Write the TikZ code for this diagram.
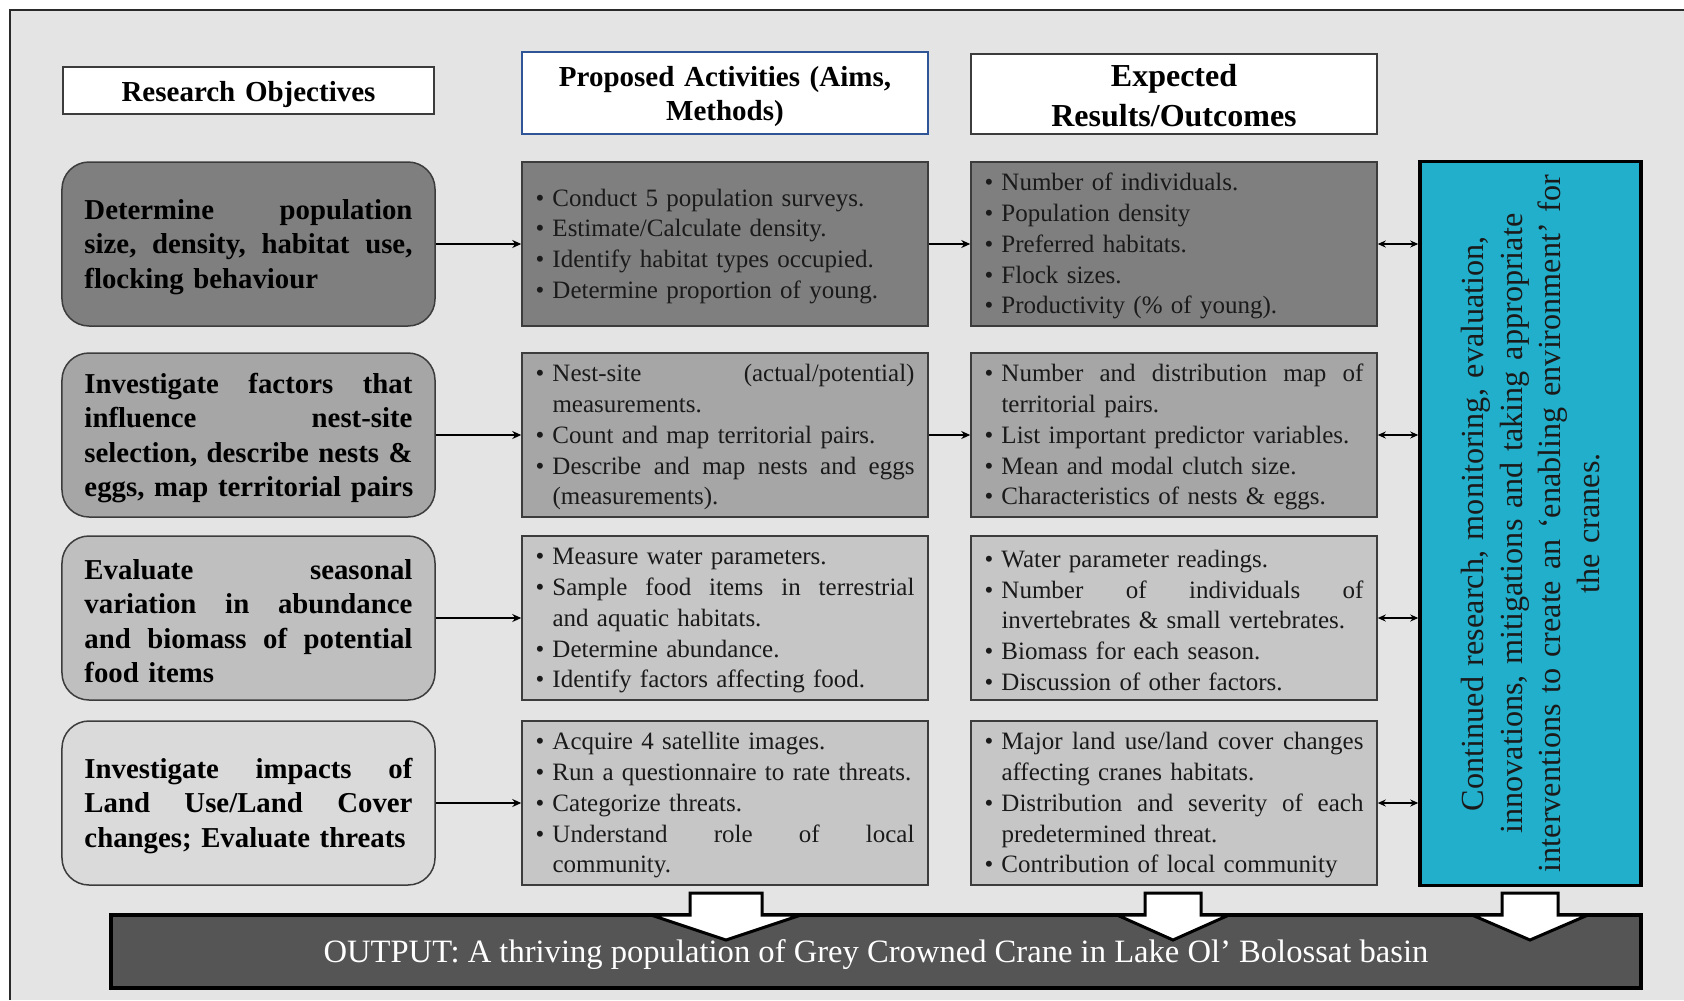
\documentclass[tikz,border=0pt]{standalone}
\usepackage{fontspec}
\setmainfont{Liberation Serif}
\usetikzlibrary{arrows.meta}

\definecolor{pagebg}{HTML}{E4E4E4}
\definecolor{framecol}{HTML}{2A2A2A}
\definecolor{edgecol}{HTML}{3C3C3C}
\definecolor{headblue}{HTML}{2F5597}
\definecolor{shadeA}{HTML}{7F7F7F}
\definecolor{shadeB}{HTML}{A6A6A6}
\definecolor{shadeC}{HTML}{BFBFBF}
\definecolor{shadeCc}{HTML}{C6C6C6}
\definecolor{shadeD}{HTML}{DADADA}
\definecolor{cyanfill}{HTML}{22AFCB}
\definecolor{barfill}{HTML}{555555}
\definecolor{inkcol}{HTML}{1A1A1A}

% widths used for justified lines and bullet items
\newlength\objw \setlength\objw{328bp}
\newlength\bulw \setlength\bulw{17bp}
\newlength\itmw \setlength\itmw{362bp}
\newcommand\jl[1]{\makebox[\objw][l]{#1}}
\newcommand\ji[1]{\makebox[\itmw][l]{#1}}
\newcommand\sk{\hspace{0pt plus 1fill}}
\newcommand\bul{\makebox[\bulw][l]{\textbullet}}
\newcommand\cnt{\hspace*{\bulw}}
% white block arrow pointing down: centre x, shaft half width, head half width
\newcommand\dnarrow[3]{%
  \draw[blockarrow] (#1-#2,893) -- (#1+#2,893) -- (#1+#2,915) -- (#1+#3,915)
    -- (#1,940) -- (#1-#3,915) -- (#1-#2,915) -- cycle;}

\begin{document}
\begin{tikzpicture}[x=1bp,y=-1bp,
  objbox/.style={draw=edgecol, line width=1.5bp, rounded corners=27bp,
    minimum width=373bp, minimum height=164bp, text width=328bp, inner sep=0pt,
    align=left, text=black, text height=26bp,
    font=\fontsize{28.8bp}{34.5bp}\selectfont\bfseries},
  listbox/.style={draw=edgecol, line width=1.5bp, minimum width=406bp,
    minimum height=164bp, text width=379bp, inner sep=0pt, align=left,
    text=inkcol, text height=22bp, font=\fontsize{25bp}{30.7bp}\selectfont},
  headbox/.style={draw=edgecol, fill=white, line width=1.5bp, inner sep=0pt,
    align=center, text=black},
  conn/.style={draw=black, line width=2bp, -{Stealth[length=9bp,width=8bp]}},
  biconn/.style={draw=black, line width=1.6bp,
    {Stealth[length=8bp,width=7bp]}-{Stealth[length=8bp,width=7bp]}},
  blockarrow/.style={fill=white, draw=black, line width=3bp, line join=miter}
]
\useasboundingbox (0,0) rectangle (1684,1000);

% page background and frame
\fill[pagebg] (10,10) rectangle (1684,1000);
\draw[framecol, line width=2bp] (10,1000) -- (10,10) -- (1684,10);

% column headings
\node[headbox, minimum width=371bp, minimum height=47bp, text width=360bp,
  text height=28bp, font=\fontsize{29bp}{34bp}\selectfont\bfseries]
  (h1) at (248.5,90.5) {Research Objectives};
\node[headbox, draw=headblue, minimum width=406bp, minimum height=82bp,
  text width=396bp, text height=27bp,
  font=\fontsize{29bp}{34.5bp}\selectfont\bfseries] (h2) at (725,93)
  {Proposed Activities (Aims,\\ Methods)};
\node[headbox, minimum width=406bp, minimum height=80bp, text width=396bp,
  text height=26bp, font=\fontsize{32bp}{40bp}\selectfont\bfseries]
  (h3) at (1174,94) {Expected\\ Results/Outcomes};

% research objectives
\node[objbox, fill=shadeA] (o1) at (248.5,244)
  {\jl{Determine\sk population}\\ \jl{size,\sk density,\sk habitat\sk use,}\\
   flocking behaviour};
\node[objbox, fill=shadeB] (o2) at (248.5,435)
  {\jl{Investigate\sk factors\sk that}\\ \jl{influence\sk nest-site}\\
   \jl{selection,\sk describe\sk nests\sk \&}\\ \mbox{eggs, map territorial pairs}};
\node[objbox, fill=shadeC] (o3) at (248.5,618)
  {\jl{Evaluate\sk seasonal}\\ \jl{variation\sk in\sk abundance}\\
   \jl{and\sk biomass\sk of\sk potential}\\ food items};
\node[objbox, fill=shadeD] (o4) at (248.5,803)
  {\jl{Investigate\sk impacts\sk of}\\ \jl{Land\sk Use/Land\sk Cover}\\
   \mbox{changes; Evaluate threats}};

% proposed activities
\node[listbox, fill=shadeA] (a1) at (725,244)
  {\bul Conduct 5 population surveys.\\
   \bul Estimate/Calculate density.\\
   \bul Identify habitat types occupied.\\
   \bul Determine proportion of young.};
\node[listbox, fill=shadeB] (a2) at (725,435)
  {\bul\ji{Nest-site\sk (actual/potential)}\\
   \cnt measurements.\\
   \bul Count and map territorial pairs.\\
   \bul\ji{Describe\sk and\sk map\sk nests\sk and\sk eggs}\\
   \cnt (measurements).};
\node[listbox, fill=shadeCc] (a3) at (725,618)
  {\bul Measure water parameters.\\
   \bul\ji{Sample\sk food\sk items\sk in\sk terrestrial}\\
   \cnt and aquatic habitats.\\
   \bul Determine abundance.\\
   \bul Identify factors affecting food.};
\node[listbox, fill=shadeCc] (a4) at (725,803)
  {\bul Acquire 4 satellite images.\\
   \bul \mbox{Run a questionnaire to rate threats.}\\
   \bul Categorize threats.\\
   \bul\ji{Understand\sk role\sk of\sk local}\\
   \cnt community.};

% expected results
\node[listbox, fill=shadeA] (r1) at (1174,244)
  {\bul Number of individuals.\\
   \bul Population density\\
   \bul Preferred habitats.\\
   \bul Flock sizes.\\
   \bul Productivity (\% of young).};
\node[listbox, fill=shadeB] (r2) at (1174,435)
  {\bul\ji{Number\sk and\sk distribution\sk map\sk of}\\
   \cnt territorial pairs.\\
   \bul List important predictor variables.\\
   \bul Mean and modal clutch size.\\
   \bul Characteristics of nests \& eggs.};
\node[listbox, fill=shadeCc] (r3) at (1174,618)
  {\bul Water parameter readings.\\
   \bul\ji{Number\sk of\sk individuals\sk of}\\
   \cnt \mbox{invertebrates \& small vertebrates.}\\
   \bul Biomass for each season.\\
   \bul Discussion of other factors.};
\node[listbox, fill=shadeCc] (r4) at (1174,803)
  {\bul\ji{Major\sk land\sk use/land\sk cover\sk changes}\\
   \cnt affecting cranes habitats.\\
   \bul\ji{Distribution\sk and\sk severity\sk of\sk each}\\
   \cnt predetermined threat.\\
   \bul Contribution of local community};

% continued research box
\node[draw=black, fill=cyanfill, line width=3.5bp, rotate=90,
  minimum width=724bp, minimum height=221bp, inner sep=0pt,
  text width=710bp, align=center, text=inkcol,
  font=\fontsize{32.2bp}{38.4bp}\selectfont] (cy) at (1530.5,523.5)
  {Continued research, monitoring, evaluation,\\
   innovations, mitigations and taking appropriate\\
   interventions to create an ‘enabling environment’ for\\
   the cranes.};

% output bar
\node[draw=black, fill=barfill, line width=4bp, minimum width=1530bp,
  minimum height=73bp, inner sep=0pt, text=white, text depth=0pt,
  font=\fontsize{32.6bp}{36bp}\selectfont] (out) at (876,951.5)
  {OUTPUT: A thriving population of Grey Crowned Crane in Lake Ol’ Bolossat basin};

% connectors
\foreach \i in {1,2,3,4} {
  \draw[conn] (o\i.east) -- (a\i.west);
  \draw[biconn] (r\i.east) -- (r\i.east -| cy.north);
}
\draw[conn] (a1.east) -- (r1.west);
\draw[conn] (a2.east) -- (r2.west);

% block arrows into the output bar
\dnarrow{726}{36}{75}
\dnarrow{1173}{28}{56}
\dnarrow{1530}{28}{58}
\end{tikzpicture}
\end{document}
